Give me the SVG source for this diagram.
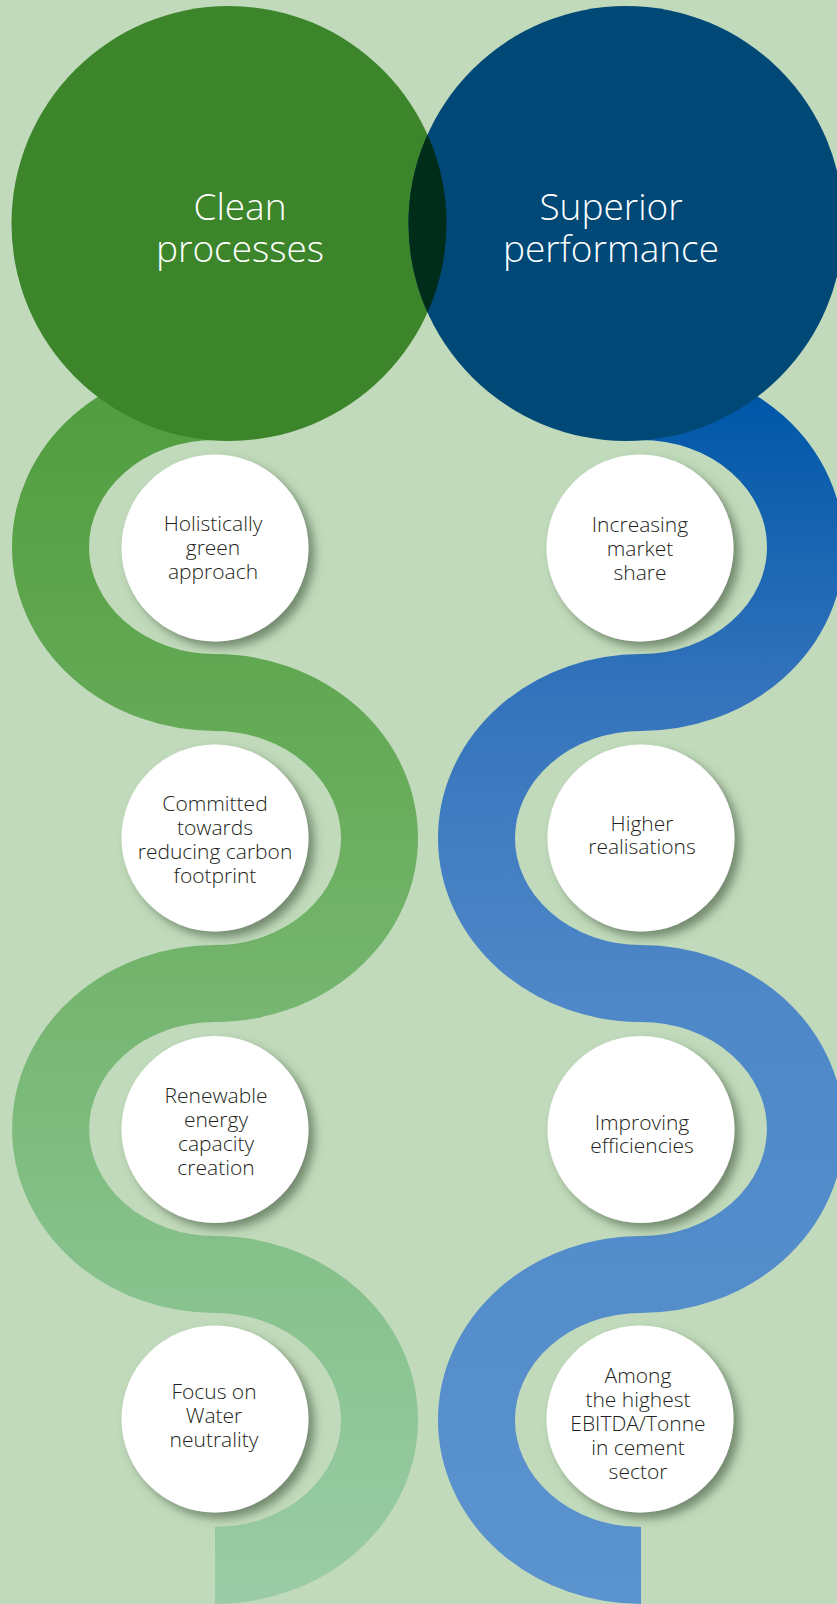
<svg xmlns="http://www.w3.org/2000/svg" width="837" height="1604" viewBox="0 0 837 1604">
  <defs>
    <linearGradient id="gGreen" gradientUnits="userSpaceOnUse" x1="0" y1="370" x2="0" y2="1604">
      <stop offset="0" stop-color="#509c3d"/>
      <stop offset="0.35" stop-color="#69ad5c"/>
      <stop offset="0.7" stop-color="#84c088"/>
      <stop offset="1" stop-color="#9bcca7"/>
    </linearGradient>
    <linearGradient id="gBlue" gradientUnits="userSpaceOnUse" x1="0" y1="400" x2="0" y2="1604">
      <stop offset="0" stop-color="#0057a8"/>
      <stop offset="0.25" stop-color="#3574bc"/>
      <stop offset="0.5" stop-color="#4f88c8"/>
      <stop offset="1" stop-color="#5a93ce"/>
    </linearGradient>
    <clipPath id="clipGreen">
      <circle cx="229" cy="223.5" r="217.5"/>
    </clipPath>
    <filter id="shadow" x="-30%" y="-30%" width="170%" height="170%">
      <feDropShadow dx="6" dy="6" stdDeviation="5" flood-color="#3f553a" flood-opacity="0.6"/>
    </filter>
    <style>
      .band { fill: none; stroke-width: 77; stroke-linecap: butt; }
      .title { font-family: "Open Sans", "Liberation Sans", sans-serif; font-weight: 300; font-size: 37px; fill: #ffffff; text-anchor: middle; }
      .disc { fill: #ffffff; filter: url(#shadow); }
      .label { font-family: "Open Sans", "Liberation Sans", sans-serif; font-weight: 300; font-size: 21px; fill: #231f20; text-anchor: middle; }
    </style>
  </defs>

  <rect id="background" x="0" y="0" width="837" height="1604" fill="#c1dabb"/>

  <g id="connectors">
    <path id="band-green" class="band" stroke="url(#gGreen)" d="M215,401.5 A164.5,145.5 0 0 0 215,692.5 A164.5,145.5 0 0 1 215,983.5 A164.5,145.5 0 0 0 215,1274.5 A164.5,145.5 0 0 1 215,1565.5"/>
    <path id="band-blue" class="band" stroke="url(#gBlue)" d="M641,401.5 A164.5,145.5 0 0 1 641,692.5 A164.5,145.5 0 0 0 641,983.5 A164.5,145.5 0 0 1 641,1274.5 A164.5,145.5 0 0 0 641,1565.5"/>
  </g>

  <g id="node-clean-processes">
    <circle cx="229" cy="223.5" r="217.5" fill="#3c852b"/>
  </g>
  <g id="node-superior-performance">
    <circle cx="626" cy="223.5" r="217.5" fill="#004876"/>
    <circle cx="626" cy="223.5" r="217.5" fill="#002c1a" clip-path="url(#clipGreen)"/>
    <text class="title"><tspan x="611" y="220">Superior</tspan><tspan x="611" y="262">performance</tspan></text>
  </g>
  <g id="title-clean">
    <text class="title"><tspan x="240" y="220">Clean</tspan><tspan x="240" y="262">processes</tspan></text>
  </g>

  <g id="node-holistically">
    <circle class="disc" cx="215" cy="548" r="93.5"/>
    <text class="label"><tspan x="213" y="531">Holistically</tspan><tspan x="213" y="555">green</tspan><tspan x="213" y="579">approach</tspan></text>
  </g>
  <g id="node-committed">
    <circle class="disc" cx="215" cy="838" r="93.5"/>
    <text class="label"><tspan x="215" y="811">Committed</tspan><tspan x="215" y="835">towards</tspan><tspan x="215" y="859">reducing carbon</tspan><tspan x="215" y="883">footprint</tspan></text>
  </g>
  <g id="node-renewable">
    <circle class="disc" cx="215" cy="1129.5" r="93.5"/>
    <text class="label"><tspan x="216" y="1103">Renewable</tspan><tspan x="216" y="1127">energy</tspan><tspan x="216" y="1151">capacity</tspan><tspan x="216" y="1175">creation</tspan></text>
  </g>
  <g id="node-water">
    <circle class="disc" cx="215" cy="1419" r="93.5"/>
    <text class="label"><tspan x="214" y="1399">Focus on</tspan><tspan x="214" y="1423">Water</tspan><tspan x="214" y="1447">neutrality</tspan></text>
  </g>

  <g id="node-market-share">
    <circle class="disc" cx="640" cy="548" r="93.5"/>
    <text class="label"><tspan x="640" y="532">Increasing</tspan><tspan x="640" y="556">market</tspan><tspan x="640" y="580">share</tspan></text>
  </g>
  <g id="node-realisations">
    <circle class="disc" cx="641" cy="838" r="93.5"/>
    <text class="label"><tspan x="642" y="831">Higher</tspan><tspan x="642" y="854">realisations</tspan></text>
  </g>
  <g id="node-efficiencies">
    <circle class="disc" cx="641" cy="1129.5" r="93.5"/>
    <text class="label"><tspan x="642" y="1130">Improving</tspan><tspan x="642" y="1153">efficiencies</tspan></text>
  </g>
  <g id="node-ebitda">
    <circle class="disc" cx="640" cy="1419" r="93.5"/>
    <text class="label"><tspan x="638" y="1383">Among</tspan><tspan x="638" y="1407">the highest</tspan><tspan x="638" y="1431">EBITDA/Tonne</tspan><tspan x="638" y="1455">in cement</tspan><tspan x="638" y="1479">sector</tspan></text>
  </g>
</svg>
